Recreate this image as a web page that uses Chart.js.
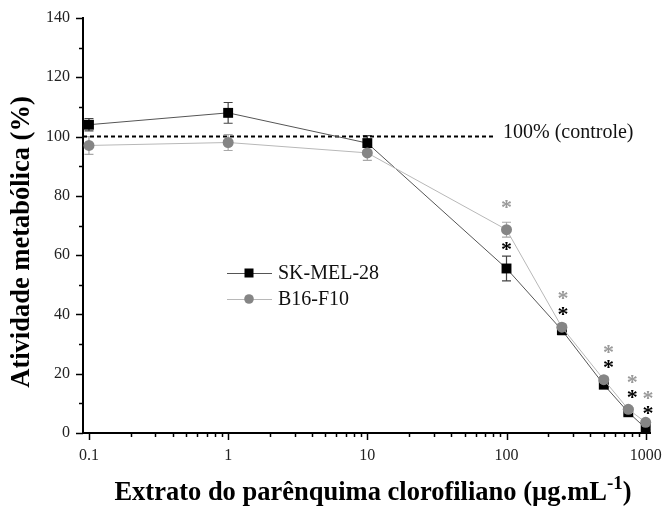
<!DOCTYPE html>
<html><head><meta charset="utf-8">
<script src="https://cdn.jsdelivr.net/npm/chart.js@4.4.1/dist/chart.umd.min.js"></script>
<style>html,body{margin:0;padding:0;background:#fff;overflow:hidden}#wrap{width:663px;height:514px}</style>
</head><body><div id="wrap"><canvas id="c" width="663" height="514"></canvas></div>
<script>
// ---- data ----
const concentrations = [0.1, 1, 10, 100, 250, 500, 750, 1000];
const skMel28 = [104.0, 108.0, 97.8, 55.5, 34.7, 16.3, 7.0, 1.6];
const skMel28Err = [2.1, 3.5, 2.5, 4.2, 1.5, 1.0, 1.0, 0.5];
const b16f10 = [97.0, 98.0, 94.5, 68.6, 35.7, 18.0, 8.0, 3.6];
const b16f10Err = [3.0, 2.7, 2.5, 2.5, 1.0, 1.0, 0.8, 0.5];
const starX = [100, 255, 540, 800, 1040];
const starSk = [62.8, 40.9, 23.0, 13.1, 7.6];
const starB16 = [77.0, 46.5, 28.1, 18.2, 12.5];
const controlLevel = 100;
const controlEnd = 80;
const controlLabel = '100% (controle)';
const seriesNames = ['SK-MEL-28', 'B16-F10'];
const xDecades = [0.1, 1, 10, 100, 1000];
const xMin = 0.0906, xMax = 1074;
const yMin = 0, yMax = 140, yStep = 10, yLabelStep = 20;
const yTitle = 'Atividade metabólica (%)';
const xTitleMain = 'Extrato do parênquima clorofiliano (µg.mL';
const xTitleSup = '-1';
const xTitleEnd = ')';

const SERIF = "'Liberation Serif', 'Times New Roman', serif";
const skColor = '#000000', skLine = '#555555', skErr = '#444444';
const b16Color = '#858585', b16Line = '#b8b8b8', b16Err = '#a8a8a8';

const pts = (ys) => concentrations.map((x, i) => ({x, y: ys[i]}));

const errorBars = {
  id: 'errorBars',
  beforeDatasetsDraw(chart) {
    const {ctx, scales: {x, y}} = chart;
    const draw = (vals, errs, color) => {
      ctx.save(); ctx.strokeStyle = color; ctx.lineWidth = 1.2;
      concentrations.forEach((c, i) => {
        const px = x.getPixelForValue(c);
        const y1 = y.getPixelForValue(vals[i] + errs[i]);
        const y2 = y.getPixelForValue(vals[i] - errs[i]);
        ctx.beginPath();
        ctx.moveTo(px, y1); ctx.lineTo(px, y2);
        ctx.moveTo(px - 4.5, y1); ctx.lineTo(px + 4.5, y1);
        ctx.moveTo(px - 4.5, y2); ctx.lineTo(px + 4.5, y2);
        ctx.stroke();
      });
      ctx.restore();
    };
    draw(skMel28, skMel28Err, skErr);
    draw(b16f10, b16f10Err, b16Err);
  }
};

const extras = {
  id: 'extras',
  afterDraw(chart) {
    const {ctx, scales: {x, y}, chartArea: a} = chart;
    ctx.save();
    // tick marks
    ctx.strokeStyle = '#000'; ctx.lineWidth = 1.5;
    y.ticks.forEach(t => {
      const py = Math.round(y.getPixelForValue(t.value)) + 0.5;
      const len = (t.value % yLabelStep === 0) ? 7 : 4;
      ctx.beginPath(); ctx.moveTo(a.left - len, py); ctx.lineTo(a.left, py); ctx.stroke();
    });
    x.ticks.forEach(t => {
      const px = Math.round(x.getPixelForValue(t.value)) + 0.5;
      const len = xDecades.includes(t.value) ? 7 : 4;
      ctx.beginPath(); ctx.moveTo(px, a.bottom); ctx.lineTo(px, a.bottom + len); ctx.stroke();
    });
    // stars
    const drawStar = (xs, ys, color) => {
      ctx.fillStyle = color; ctx.font = 'bold 22px ' + SERIF; ctx.textAlign = 'center';
      ctx.textBaseline = 'alphabetic';
      const m = ctx.measureText('*');
      const off = (m.actualBoundingBoxAscent - m.actualBoundingBoxDescent) / 2;
      xs.forEach((v, i) => ctx.fillText('*', x.getPixelForValue(v), y.getPixelForValue(ys[i]) + off));
    };
    drawStar(starX, starB16, '#9a9a9a');
    drawStar(starX, starSk, '#000');
    // control label
    ctx.fillStyle = '#111'; ctx.font = '20px ' + SERIF; ctx.textAlign = 'left'; ctx.textBaseline = 'middle';
    ctx.fillText(controlLabel, x.getPixelForValue(controlEnd) + 10, y.getPixelForValue(controlLevel) - 4);
    // legend
    const lx = a.left + 144, ly = a.top + 255;
    const rows = [
      {name: seriesNames[0], line: skLine, fill: skColor, style: 'rect'},
      {name: seriesNames[1], line: b16Line, fill: b16Color, style: 'circle'}
    ];
    rows.forEach((r, i) => {
      const yy = ly + i * 26;
      ctx.strokeStyle = r.line; ctx.lineWidth = 1;
      ctx.beginPath(); ctx.moveTo(lx, yy + 0.5); ctx.lineTo(lx + 45, yy + 0.5); ctx.stroke();
      ctx.fillStyle = r.fill;
      if (r.style === 'rect') ctx.fillRect(lx + 22 - 4.5, yy - 4.5, 9, 9);
      else { ctx.beginPath(); ctx.arc(lx + 22, yy, 4.8, 0, Math.PI * 2); ctx.fill(); }
      ctx.fillStyle = '#111'; ctx.font = '20px ' + SERIF; ctx.textAlign = 'left'; ctx.textBaseline = 'middle';
      ctx.fillText(r.name, lx + 51, yy + 1);
    });
    // y title
    ctx.save();
    ctx.translate(22, 242); ctx.rotate(-Math.PI / 2);
    ctx.fillStyle = '#000'; ctx.font = 'bold 26.5px ' + SERIF; ctx.textAlign = 'center'; ctx.textBaseline = 'middle';
    ctx.fillText(yTitle, 0, 0);
    ctx.restore();
    // x title with superscript
    ctx.fillStyle = '#000'; ctx.textBaseline = 'alphabetic'; ctx.textAlign = 'left';
    const fMain = 'bold 26.5px ' + SERIF, fSup = 'bold 19px ' + SERIF;
    ctx.font = fMain; const w1 = ctx.measureText(xTitleMain).width; const w3 = ctx.measureText(xTitleEnd).width;
    ctx.font = fSup; const w2 = ctx.measureText(xTitleSup).width;
    let sx = 373 - (w1 + w2 + w3) / 2; const by = 500;
    ctx.font = fMain; ctx.fillText(xTitleMain, sx, by); sx += w1;
    ctx.font = fSup; ctx.fillText(xTitleSup, sx, by - 11); sx += w2;
    ctx.font = fMain; ctx.fillText(xTitleEnd, sx, by);
    ctx.restore();
  }
};

const noPad = (s) => { s.paddingLeft = 0; s.paddingRight = 0; s.paddingTop = 0; s.paddingBottom = 0; };

new Chart(document.getElementById('c'), {
  type: 'line',
  data: {
    datasets: [
      {label: seriesNames[1], data: pts(b16f10), borderColor: b16Line, borderWidth: 1,
       pointStyle: 'circle', pointRadius: 5.5, pointBackgroundColor: b16Color, pointBorderColor: b16Color, pointBorderWidth: 0, clip: false},
      {label: seriesNames[0], data: pts(skMel28), borderColor: skLine, borderWidth: 1,
       pointStyle: 'rect', pointRadius: 7, pointBackgroundColor: skColor, pointBorderColor: skColor, pointBorderWidth: 0, clip: false},
      {label: 'controle', data: [{x: xMin, y: controlLevel}, {x: controlEnd, y: controlLevel}],
       borderColor: '#000', borderWidth: 2, borderDash: [4, 3], pointRadius: 0}
    ]
  },
  options: {
    responsive: false, animation: false, devicePixelRatio: 1,
    layout: {padding: {left: 0, right: 13, top: 18, bottom: 0}},
    plugins: {legend: {display: false}, tooltip: {enabled: false}},
    scales: {
      x: {
        type: 'logarithmic', min: xMin, max: xMax,
        grid: {display: false, drawTicks: false},
        border: {display: true, color: '#000', width: 2},
        afterBuildTicks(s) {
          const list = [];
          xDecades.slice(0, -1).forEach(d => { for (let k = 1; k <= 9; k++) list.push({value: Number((d * k).toPrecision(6))}); });
          list.push({value: xDecades[xDecades.length - 1]});
          s.ticks = list;
        },
        ticks: {autoSkip: false, maxRotation: 0, padding: 13, color: '#222',
          font: {family: SERIF, size: 16},
          callback: (v) => xDecades.includes(v) ? String(v) : ''},
        afterFit(s) { s.height = 81; noPad(s); }
      },
      y: {
        min: yMin, max: yMax,
        grid: {display: false, drawTicks: false},
        border: {display: true, color: '#000', width: 2},
        ticks: {stepSize: yStep, padding: 13, color: '#222', font: {family: SERIF, size: 16},
          callback: (v) => v % yLabelStep === 0 ? String(v) : ''},
        afterFit(s) { s.width = 83; noPad(s); }
      }
    }
  },
  plugins: [errorBars, extras]
});
</script></body></html>
